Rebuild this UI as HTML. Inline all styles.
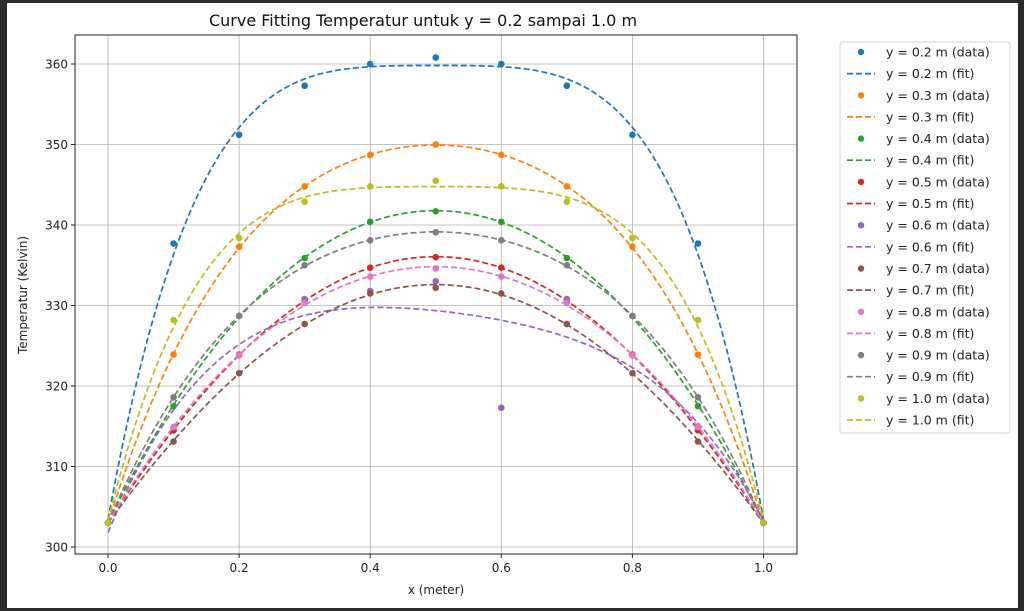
<!DOCTYPE html>
<html><head><meta charset="utf-8"><style>
html,body{margin:0;padding:0;background:#2b2b2b;}
svg{display:block;font-family:"DejaVu Sans","Liberation Sans",sans-serif;}
</style></head><body>
<svg id="s" width="1024" height="611" xmlns="http://www.w3.org/2000/svg">
<rect x="0" y="0" width="1024" height="611" fill="#2b2b2b"/>
<rect x="7" y="3" width="1011" height="605" fill="#ffffff"/>
<text x="423" y="26" font-size="16" text-anchor="middle" fill="#111">Curve Fitting Temperatur untuk y = 0.2 sampai 1.0 m</text>
<g id="grid" stroke="#b0b0b0" stroke-width="0.8"></g>
<g id="ticks" font-size="12" fill="#222"></g>
<defs><clipPath id="c"><rect x="75" y="35" width="722" height="519"/></clipPath></defs>
<g id="series" clip-path="url(#c)"></g>
<rect x="75" y="35" width="722" height="519" fill="none" stroke="#222" stroke-width="1"/>
<text x="436" y="594" font-size="12" text-anchor="middle" fill="#222">x (meter)</text>
<text transform="translate(27,295) rotate(-90)" font-size="12" text-anchor="middle" fill="#222">Temperatur (Kelvin)</text>
<rect x="840" y="42" width="170" height="391" rx="3" fill="#fff" stroke="#d6d6d6"/>
<g id="legend" font-size="12.5" fill="#222"></g>
</svg>
<script>
var NS="http://www.w3.org/2000/svg";
function X(x){return 108+x*655.5;}
function Y(t){return 64+(360-t)*8.05;}
function el(p,n,a,t){var e=document.createElementNS(NS,n);for(var k in a)e.setAttribute(k,a[k]);if(t!=null)e.textContent=t;document.getElementById(p).appendChild(e);return e;}
for(var i=0;i<=5;i++){var x=X(i*0.2);el("grid","line",{x1:x,y1:35,x2:x,y2:554});
 el("ticks","line",{x1:x,y1:554,x2:x,y2:558,stroke:"#222"});
 el("ticks","text",{x:x,y:572,"text-anchor":"middle"},(i*0.2).toFixed(1));}
for(var t=300;t<=360;t+=10){var y=Y(t);el("grid","line",{x1:75,y1:y,x2:797,y2:y});
 el("ticks","line",{x1:71,y1:y,x2:75,y2:y,stroke:"#222"});
 el("ticks","text",{x:68,y:y+4.5,"text-anchor":"end"},t);}
var cols=["#1f77b4","#ff7f0e","#2ca02c","#d62728","#9467bd","#8c564b","#e377c2","#7f7f7f","#bcbd22"];
function sym(a){return [303].concat(a,a.slice(0,a.length-1).reverse(),[303]);}
var data=[
 sym([337.7,351.2,357.3,360.0,360.8]),
 sym([323.9,337.3,344.8,348.7,350.0]),
 sym([317.5,328.7,335.9,340.4,341.7]),
 sym([314.5,323.9,330.6,334.7,336.0]),
 [303,314.9,323.8,330.8,331.8,333.0,317.3,330.8,323.8,314.9,303],
 sym([313.1,321.6,327.7,331.5,332.2]),
 sym([314.9,323.8,330.3,333.6,334.6]),
 sym([318.6,328.7,335.0,338.1,339.1]),
 sym([328.2,338.4,342.9,344.8,345.5])
];
function polyfit(xs,ys,d){var n=d+1,A=[],b=[];for(var i=0;i<n;i++){A.push([]);b.push(0);for(var j=0;j<n;j++){var s=0;for(var k=0;k<xs.length;k++)s+=Math.pow(xs[k],i+j);A[i].push(s);}for(var k=0;k<xs.length;k++)b[i]+=ys[k]*Math.pow(xs[k],i);}
 for(var i=0;i<n;i++){var p=i;for(var r=i+1;r<n;r++)if(Math.abs(A[r][i])>Math.abs(A[p][i]))p=r;var tA=A[i];A[i]=A[p];A[p]=tA;var tb=b[i];b[i]=b[p];b[p]=tb;
  for(var r=0;r<n;r++){if(r==i)continue;var f=A[r][i]/A[i][i];for(var c=i;c<n;c++)A[r][c]-=f*A[i][c];b[r]-=f*b[i];}}
 return b.map(function(v,i){return v/A[i][i];});}
var xs=[];for(var i=0;i<=10;i++)xs.push(i/10);
var dash="6,3";
data.forEach(function(ys,si){var c=cols[si];
 var co=polyfit(xs,ys,4);var pts=[];
 for(var k=0;k<=200;k++){var x=k/200,v=0;for(var j=0;j<co.length;j++)v+=co[j]*Math.pow(x,j);pts.push(X(x).toFixed(1)+","+Y(v).toFixed(1));}
 el("series","polyline",{points:pts.join(" "),fill:"none",stroke:c,"stroke-width":1.7,"stroke-dasharray":dash});
 ys.forEach(function(v,k){el("series","circle",{cx:X(xs[k]),cy:Y(v),r:3.3,fill:c});});
 var ly=52+si*43.3;var lab="y = "+(0.2+si*0.1).toFixed(1)+" m ";
 el("legend","circle",{cx:861,cy:ly,r:3.2,fill:c});
 el("legend","text",{x:886,y:ly+4.5},lab+"(data)");
 el("legend","line",{x1:847,y1:ly+21.6,x2:875,y2:ly+21.6,stroke:c,"stroke-width":1.7,"stroke-dasharray":dash});
 el("legend","text",{x:886,y:ly+26.1},lab+"(fit)");
});
</script>
</body></html>
